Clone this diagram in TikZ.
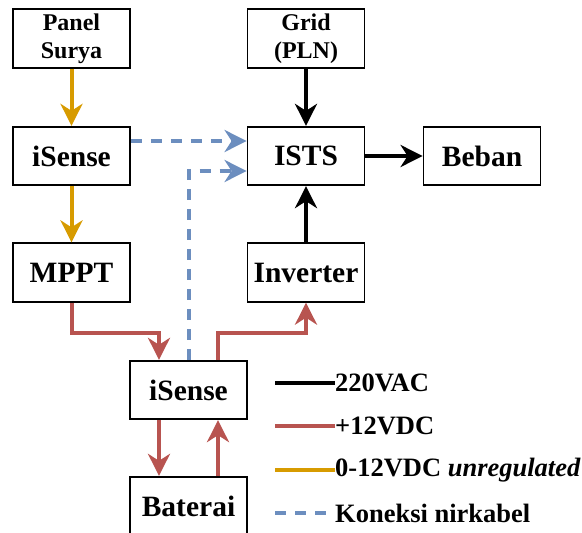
\documentclass[tikz,border=0pt]{standalone}
\usepackage{fontspec}
\setmainfont{Liberation Serif}
\usetikzlibrary{arrows.meta,calc}
\definecolor{cOrange}{HTML}{D79B00}
\definecolor{cRed}{HTML}{B85450}
\definecolor{cBlue}{HTML}{6C8EBF}
\tikzset{
  box/.style={draw=black, line width=1.8pt, minimum width=117pt, minimum height=58.5pt, inner sep=0pt, align=center, font=\bfseries\fontsize{29.5}{31}\selectfont},
  smallbox/.style={box, font=\bfseries\fontsize{24}{28}\selectfont},
  conn/.style={line width=4pt, -{Stealth[length=22pt,width=22pt,inset=7pt]}},
  acline/.style={conn, draw=black},
  dcline/.style={conn, draw=cRed},
  unline/.style={conn, draw=cOrange},
  wline/.style={conn, draw=cBlue, dash pattern=on 11pt off 9pt},
  legtext/.style={anchor=west, inner sep=0pt, font=\bfseries\fontsize{26.5}{28}\selectfont},
  legline/.style={line width=4pt}
}
\begin{document}
\begin{tikzpicture}[x=1pt,y=1pt]
\useasboundingbox (0,0) rectangle (582,-533);
\node[smallbox] (panel) at (71.5,-38.5) {Panel\\Surya};
\node[smallbox] (grid) at (306,-38.5) {Grid\\(PLN)};
\node[box] (isense1) at (71.5,-156) {iSense};
\node[box] (ists) at (306,-156) {ISTS};
\node[box] (beban) at (482,-156) {Beban};
\node[box] (mppt) at (71.5,-272.5) {MPPT};
\node[box] (inverter) at (306,-272.5) {Inverter};
\node[box] (isense2) at (188.5,-390) {iSense};
\node[box] (baterai) at (188.5,-506) {Baterai};

\draw[unline] (panel) -- (isense1);
\draw[unline] (isense1) -- (mppt);
\draw[acline] (grid) -- (ists);
\draw[acline] (ists) -- (beban);
\draw[acline] (inverter) -- (ists);
\draw[dcline] (mppt.south) -- ++(0,-30) -| ([xshift=-29.5pt]isense2.north);
\draw[dcline] ([xshift=29.5pt]isense2.north) |- ($(inverter.south)+(0,-30)$) -- (inverter.south);
\draw[dcline] ([xshift=-29.5pt]isense2.south) -- ([xshift=-29.5pt]baterai.north);
\draw[dcline] ([xshift=29.5pt]baterai.north) -- ([xshift=29.5pt]isense2.south);
\draw[wline] ([yshift=15pt]isense1.east) -- ([yshift=15pt]ists.west);
\draw[wline] (isense2.north) |- ([yshift=-15pt]ists.west);

\coordinate (l1) at (275,-383);
\coordinate (l2) at (275,-426);
\coordinate (l3) at (275,-470);
\coordinate (l4) at (275,-513);
\node[legtext] (t1) at (335,-383) {220VAC};
\node[legtext] (t2) at (335,-426) {+12VDC};
\node[legtext] (t3) at (335,-470) {0-12VDC \textit{unregulated}};
\node[legtext] (t4) at (335,-513) {Koneksi nirkabel};
\draw[legline, black] (l1) -- (t1.west);
\draw[legline, cRed] (l2) -- (t2.west);
\draw[legline, cOrange] (l3) -- (t3.west);
\draw[legline, cBlue, dash pattern=on 11pt off 9pt] (l4) -- (t4.west);
\end{tikzpicture}
\end{document}
